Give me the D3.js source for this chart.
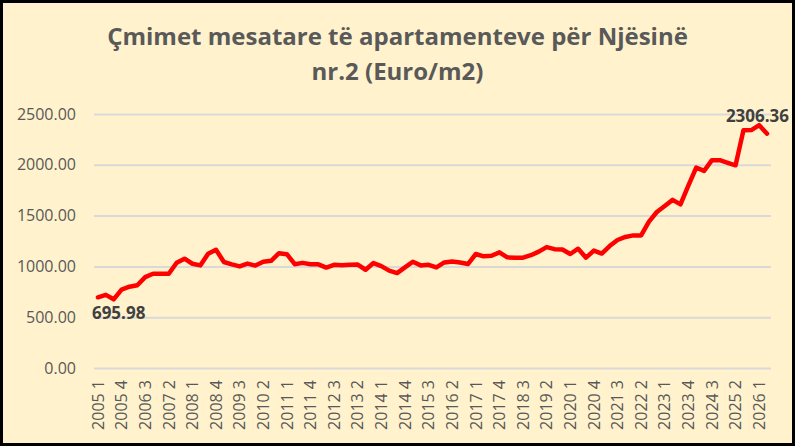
<!DOCTYPE html>
<html>
<head>
<meta charset="utf-8">
<script src="https://cdn.jsdelivr.net/npm/d3@7"></script>
<style>
  html, body { margin: 0; padding: 0; background: #fff; }
  #chart { width: 795px; height: 446px; }
  text { font-family: "Open Sans", sans-serif; }
</style>
</head>
<body>
<div id="chart"></div>
<script>
// Chart data (quarterly, 2005 Q1 .. 2026 Q2)
const years = d3.range(2005, 2027);
const quarters = [1, 2, 3, 4];
const categories = [];
years.forEach((y) => quarters.forEach((q) => {
  if (y < 2026 || q <= 2) categories.push(`${y} ${q}`);
}));

const prices = [
  695.98, 720, 676, 772, 800, 815, 895, 928, 928, 928,
  1036, 1076, 1026, 1010, 1125, 1164, 1043, 1020, 1000, 1028,
  1008, 1045, 1055, 1130, 1120, 1022, 1035, 1022, 1020, 988,
  1016, 1012, 1016, 1018, 967, 1033, 1003, 958, 934, 990,
  1046, 1010, 1016, 990, 1039, 1049, 1039, 1023, 1122, 1099,
  1105, 1138, 1089, 1086, 1086, 1110, 1145, 1190, 1170, 1166,
  1122, 1174, 1086, 1156, 1126, 1200, 1260, 1290, 1305, 1305,
  1440, 1535, 1595, 1655, 1610, 1795, 1972, 1940, 2046, 2046,
  2020, 1995, 2340, 2342, 2390, 2306.36
];

const yTicks = [0, 500, 1000, 1500, 2000, 2500];
const titleLines = ["Çmimet mesatare të apartamenteve për Njësinë", "nr.2 (Euro/m2)"];

const W = 795, H = 446;
const plot = { left: 94, right: 771, top: 114, bottom: 368 };
const GREY = "#595959";

const svg = d3.select("#chart").append("svg")
  .attr("width", W)
  .attr("height", H);

// background + frame
svg.append("rect")
  .attr("x", 1.5).attr("y", 1.5)
  .attr("width", W - 3).attr("height", H - 3)
  .attr("fill", "#FFF2CC")
  .attr("stroke", "#000")
  .attr("stroke-width", 3);

// title
svg.append("g").selectAll("text")
  .data(titleLines)
  .join("text")
  .attr("x", W / 2)
  .attr("y", (d, i) => 45 + i * 35)
  .attr("text-anchor", "middle")
  .attr("fill", GREY)
  .style("font-size", "24px")
  .style("font-weight", "bold")
  .text((d) => d);

const x = d3.scaleBand()
  .domain(categories)
  .range([plot.left, plot.right])
  .padding(0);
const cx = (c) => x(c) + x.bandwidth() / 2;

const y = d3.scaleLinear()
  .domain([0, 2500])
  .range([plot.bottom, plot.top]);

// y axis with gridlines
const yAxis = svg.append("g")
  .attr("transform", `translate(${plot.left},0)`)
  .call(d3.axisLeft(y)
    .tickValues(yTicks)
    .tickSize(-(plot.right - plot.left))
    .tickPadding(18)
    .tickFormat(d3.format(".2f")));
yAxis.select(".domain").remove();
yAxis.selectAll(".tick line")
  .attr("stroke", "#D9D9D9")
  .attr("stroke-width", 2);
yAxis.selectAll(".tick text")
  .attr("fill", GREY)
  .style("font-size", "16px")
  .style("font-family", "'Open Sans', sans-serif");

// x axis, every third quarter labelled
const xAxis = svg.append("g")
  .attr("transform", `translate(0,${plot.bottom})`)
  .call(d3.axisBottom(x)
    .tickValues(categories.filter((d, i) => i % 3 === 0))
    .tickSize(0));
xAxis.select(".domain").remove();
xAxis.selectAll(".tick text")
  .attr("transform", "rotate(-90)")
  .attr("x", -12)
  .attr("y", 0)
  .attr("dy", "0.36em")
  .attr("text-anchor", "end")
  .attr("fill", GREY)
  .style("font-size", "16px")
  .style("font-family", "'Open Sans', sans-serif");

// price line
const line = d3.line()
  .x((d, i) => cx(categories[i]))
  .y((d) => y(d));

svg.append("path")
  .datum(prices)
  .attr("d", line)
  .attr("fill", "none")
  .attr("stroke", "#FF0000")
  .attr("stroke-width", 4.5)
  .attr("stroke-linejoin", "round")
  .attr("stroke-linecap", "round");

// first and last value labels
const last = prices.length - 1;
svg.append("text")
  .attr("x", cx(categories[0]) - 6)
  .attr("y", y(prices[0]) + 22)
  .attr("fill", "#404040")
  .style("font-size", "17px")
  .style("font-weight", "bold")
  .text(d3.format(".2f")(prices[0]));

svg.append("text")
  .attr("x", cx(categories[last]) + 22)
  .attr("y", y(prices[last]) - 12)
  .attr("text-anchor", "end")
  .attr("fill", "#404040")
  .style("font-size", "17px")
  .style("font-weight", "bold")
  .text(d3.format(".2f")(prices[last]));
</script>
</body>
</html>
